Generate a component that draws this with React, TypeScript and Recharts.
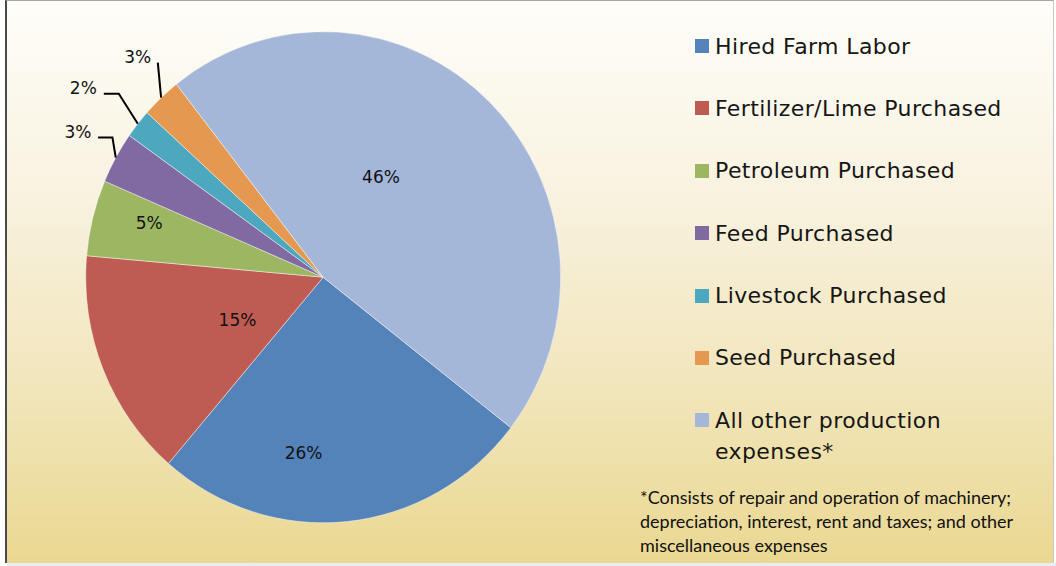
import React from 'react';
import { PieChart, Pie, Cell, Legend } from 'recharts';

const categories = [
  'Hired Farm Labor',
  'Fertilizer/Lime Purchased',
  'Petroleum Purchased',
  'Feed Purchased',
  'Livestock Purchased',
  'Seed Purchased',
  'All other production expenses*',
];
const shares = [25.8, 15.1, 5.0, 3.4, 1.9, 2.7, 46.1];
const percentLabels = ['26%', '15%', '5%', '3%', '2%', '3%', '46%'];
const sliceColors = ['#5383B9', '#BE5B53', '#9CB662', '#8169A1', '#4DA8BF', '#E5984F', '#A4B7D9'];
const footnoteLines = [
  '*Consists of repair and operation of machinery;',
  'depreciation, interest, rent and taxes; and other',
  'miscellaneous expenses',
];

const data = categories.map((name, i) => ({ name, value: shares[i], label: percentLabels[i] }));

// label placement styles (not data)
type LabelStyle =
  | { kind: 'inside'; r: number; dAng: number }
  | { kind: 'leader'; bend: [number, number]; tail: number; gap: number };
const labelStyles: LabelStyle[] = [
  { kind: 'inside', r: 0.72, dAng: -12.35 },
  { kind: 'inside', r: 0.4, dAng: 3.4 },
  { kind: 'inside', r: 0.765, dAng: -2.7 },
  { kind: 'leader', bend: [-3.3, -19.4], tail: -14.4, gap: 6.6 },
  { kind: 'leader', bend: [-19, -29], tail: -15, gap: 7 },
  { kind: 'leader', bend: [-3.3, -34], tail: 0, gap: 6.7 },
  { kind: 'inside', r: 0.475, dAng: 14.0 },
];

const RAD = Math.PI / 180;
const labelFont = '"DejaVu Sans", sans-serif';

const renderLabel = (props: any) => {
  const { cx, cy, midAngle, outerRadius, index } = props;
  const st = labelStyles[index];
  const text = data[index].label;
  if (st.kind === 'inside') {
    const a = (midAngle + st.dAng) * RAD;
    const r = outerRadius * st.r;
    const x = cx + r * Math.cos(a);
    const y = cy - r * Math.sin(a);
    return (
      <text key={`l${index}`} x={x} y={y} textAnchor="middle" dominantBaseline="central"
        fontFamily={labelFont} fontSize={17} fill="#111">
        {text}
      </text>
    );
  }
  const a = midAngle * RAD;
  const sx = cx + outerRadius * Math.cos(a);
  const sy = cy - outerRadius * Math.sin(a);
  const bx = sx + st.bend[0];
  const by = sy + st.bend[1];
  const ex = bx + st.tail;
  const ey = by;
  return (
    <g key={`l${index}`}>
      <polyline points={`${sx},${sy} ${bx},${by} ${ex},${ey}`} fill="none" stroke="#000" strokeWidth={2} />
      <text x={ex - st.gap} y={ey} textAnchor="end" fontFamily={labelFont} fontSize={17} fill="#111">
        {text}
      </text>
    </g>
  );
};

const renderLegend = (props: any) => {
  const payload = [...(props.payload || [])].sort(
    (a: any, b: any) => categories.indexOf(a.value) - categories.indexOf(b.value)
  );
  return (
    <div style={{ fontFamily: labelFont, fontSize: 22, letterSpacing: 0.4, color: '#161616' }}>
      {payload.map((entry: any, i: number) => (
        <div key={i} style={{ display: 'flex', alignItems: 'flex-start', height: i < payload.length - 1 ? 62.4 : 'auto' }}>
          <div style={{ width: 14, height: 14, marginTop: 8.5, background: entry.color, flex: '0 0 auto' }} />
          <div style={{ marginLeft: 6, lineHeight: '31px', width: 300 }}>{entry.value}</div>
        </div>
      ))}
    </div>
  );
};

export default function App() {
  return (
    <div style={{ position: 'absolute', left: 0, top: 0, width: 1056, height: 566, background: '#ffffff', overflow: 'hidden' }}>
      <style>{`.pie-wrap svg.recharts-surface { transform: scaleY(1.034); transform-origin: 0px 277px; }`}</style>
      <div style={{ position: 'absolute', left: 7, top: 563, width: 1049, height: 3, background: '#E8EEF6' }} />
      <div
        style={{
          position: 'absolute', left: 5, top: 0, width: 1046, height: 562,
          borderLeft: '2px solid #4a4a4a', borderTop: '1px solid #a6a6a6', borderRight: '1px solid #c8c8c8',
          background: 'linear-gradient(to bottom, #FEFDF9 0%, #F8F2DF 35%, #F1E5BA 70%, #EAD891 100%)',
        }}
      />
      <div className="pie-wrap" style={{ position: 'absolute', left: 0, top: 0 }}>
        <PieChart width={1056} height={566} margin={{ top: 0, right: 0, bottom: 0, left: 0 }}>
          <Pie
            data={data}
            dataKey="value"
            nameKey="name"
            cx={323.2}
            cy={277.2}
            outerRadius={237.5}
            startAngle={-37.78}
            endAngle={-397.78}
            isAnimationActive={false}
            label={renderLabel}
            labelLine={false}
            stroke="rgba(255,255,255,0.55)"
            strokeWidth={0.8}
          >
            {data.map((d, i) => (
              <Cell key={d.name} fill={sliceColors[i]} />
            ))}
          </Pie>
          <Legend
            layout="vertical"
            align="right"
            verticalAlign="top"
            content={renderLegend}
            wrapperStyle={{ position: 'absolute', left: 695, top: 30.5, width: 340, right: 'auto' }}
          />
        </PieChart>
      </div>
      <div
        style={{
          position: 'absolute', left: 640, top: 485, fontFamily: 'Lato, sans-serif', fontSize: 18,
          lineHeight: '24px', color: '#111', whiteSpace: 'nowrap',
        }}
      >
        {footnoteLines.map((l, i) => (
          <div key={i}>{l}</div>
        ))}
      </div>
    </div>
  );
}
